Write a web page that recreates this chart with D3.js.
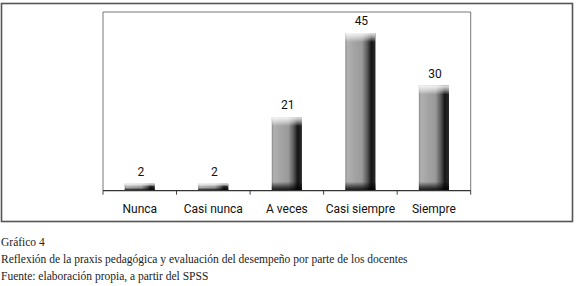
<!DOCTYPE html>
<html>
<head>
<meta charset="utf-8">
<script src="https://cdn.jsdelivr.net/npm/d3@7"></script>
<style>
  body { margin: 0; background: #fff; overflow: hidden; }
  svg { display: block; }
</style>
</head>
<body>
<div id="chart"></div>
<script>
// Data
const categories = ["Nunca", "Casi nunca", "A veces", "Casi siempre", "Siempre"];
const values = [2, 2, 21, 45, 30];
const captionLines = [
  "Gráfico 4",
  "Reflexión de la praxis pedagógica y evaluación del desempeño por parte de los docentes",
  "Fuente: elaboración propia, a partir del SPSS"
];

const width = 580, height = 286;
const margin = { top: 12, left: 103, right: 109.3, bottom: 95.3 };
const innerWidth = width - margin.left - margin.right;
const innerHeight = height - margin.top - margin.bottom;

const svg = d3.select("#chart").append("svg")
  .attr("width", width)
  .attr("height", height);

// Gradients for the bars
const defs = svg.append("defs");
const hGrad = defs.append("linearGradient").attr("id", "barH")
  .attr("x1", 0).attr("x2", 1).attr("y1", 0).attr("y2", 0);
[[0, "#8a8a8a"], [0.07, "#b0b0b0"], [0.3, "#a4a4a4"], [0.55, "#9a9a9a"], [0.72, "#5c5c5c"],
 [0.86, "#151515"], [1, "#2a2a2a"]]
  .forEach(([o, c]) => hGrad.append("stop").attr("offset", o).attr("stop-color", c));

const topGrad = defs.append("linearGradient").attr("id", "barTop")
  .attr("x1", 0).attr("x2", 0).attr("y1", 0).attr("y2", 1);
[[0, "#fff", 0.9], [0.5, "#fff", 0.5], [1, "#fff", 0]]
  .forEach(([o, c, a]) => topGrad.append("stop").attr("offset", o).attr("stop-color", c).attr("stop-opacity", a));

const botGrad = defs.append("linearGradient").attr("id", "barBot")
  .attr("x1", 0).attr("x2", 0).attr("y1", 0).attr("y2", 1);
[[0, "#000", 0], [0.6, "#000", 0.6], [1, "#000", 0.9]]
  .forEach(([o, c, a]) => botGrad.append("stop").attr("offset", o).attr("stop-color", c).attr("stop-opacity", a));

// Outer frame
svg.append("rect")
  .attr("x", 1.5).attr("y", 3.5)
  .attr("width", 571).attr("height", 218)
  .attr("fill", "none")
  .attr("stroke", "#555")
  .attr("stroke-width", 1.6);

const g = svg.append("g")
  .attr("transform", `translate(${margin.left},${margin.top})`);

const x = d3.scaleBand()
  .domain(categories)
  .range([0, innerWidth])
  .paddingInner(0.59)
  .paddingOuter(0.295);

const y = d3.scaleLinear()
  .domain([0, 51])
  .range([innerHeight, 0]);

// Plot frame (top, left, right)
g.append("path")
  .attr("d", `M0,${innerHeight}V0H${innerWidth}V${innerHeight}`)
  .attr("fill", "none")
  .attr("stroke", "#777")
  .attr("stroke-width", 1);

// Category boundary ticks
const bounds = d3.range(categories.length + 1).map(i => i * x.step());
g.selectAll(".tick-line")
  .data(bounds)
  .enter()
  .append("line")
  .attr("class", "tick-line")
  .attr("x1", d => d).attr("x2", d => d)
  .attr("y1", innerHeight).attr("y2", innerHeight + 4)
  .attr("stroke", "#444");

// Bars
const data = categories.map((c, i) => ({ cat: c, val: values[i] }));

const bars = g.selectAll(".bar")
  .data(data)
  .enter()
  .append("g")
  .attr("class", "bar");

bars.append("rect")
  .attr("x", d => x(d.cat))
  .attr("y", d => y(d.val))
  .attr("width", x.bandwidth())
  .attr("height", d => innerHeight - y(d.val))
  .attr("fill", "url(#barH)");

bars.append("rect")
  .attr("x", d => x(d.cat))
  .attr("y", d => y(d.val))
  .attr("width", x.bandwidth())
  .attr("height", d => Math.min(9, (innerHeight - y(d.val)) * 0.45))
  .attr("fill", "url(#barTop)");

bars.append("rect")
  .attr("x", d => x(d.cat))
  .attr("y", d => innerHeight - Math.min(9, (innerHeight - y(d.val)) * 0.45))
  .attr("width", x.bandwidth())
  .attr("height", d => Math.min(9, (innerHeight - y(d.val)) * 0.45))
  .attr("fill", "url(#barBot)");

// Value labels
g.selectAll(".value")
  .data(data)
  .enter()
  .append("text")
  .attr("class", "value")
  .attr("x", d => x(d.cat) + x.bandwidth() / 2 + 1)
  .attr("y", d => y(d.val) - 8)
  .attr("text-anchor", "middle")
  .style("font-family", "Roboto, sans-serif")
  .style("font-size", "12px")
  .style("fill", "#111")
  .text(d => d.val);

// X-axis baseline and labels
g.append("line")
  .attr("x1", 0).attr("x2", innerWidth)
  .attr("y1", innerHeight).attr("y2", innerHeight)
  .attr("stroke", "#333")
  .attr("stroke-width", 1.2);

const xAxis = d3.axisBottom(x).tickSize(0).tickPadding(14);
g.append("g")
  .attr("class", "x-axis")
  .attr("transform", `translate(0,${innerHeight})`)
  .call(xAxis)
  .call(a => a.select(".domain").remove())
  .selectAll("text")
  .style("font-family", "Roboto, sans-serif")
  .style("font-size", "12px")
  .attr("fill", "#111");

// Caption
svg.selectAll(".caption")
  .data(captionLines)
  .enter()
  .append("text")
  .attr("class", "caption")
  .attr("x", 1)
  .attr("y", (d, i) => 246 + i * 17)
  .style("font-family", "'Liberation Serif', serif")
  .style("font-size", "11.5px")
  .style("fill", "#222")
  .text(d => d);
</script>
</body>
</html>
